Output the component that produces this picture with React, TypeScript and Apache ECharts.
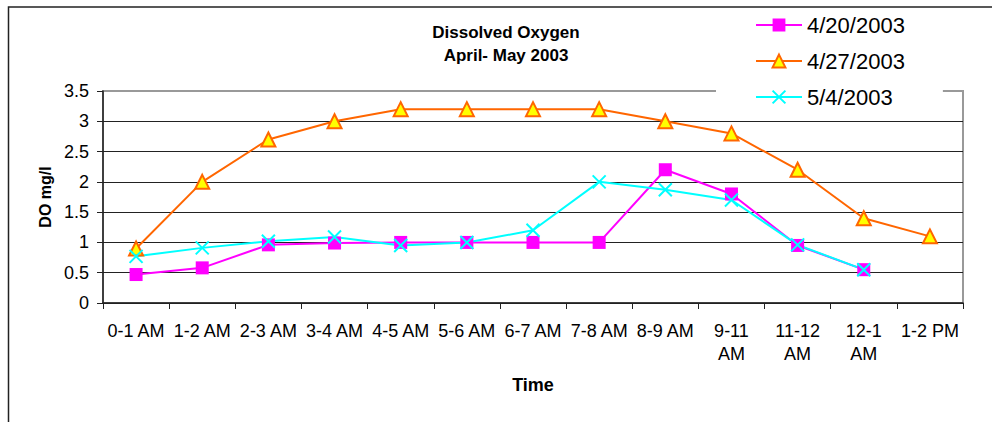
import React, { useEffect, useRef } from "react";
import * as echarts from "echarts";

const categories = [
  "0-1 AM", "1-2 AM", "2-3 AM", "3-4 AM", "4-5 AM", "5-6 AM", "6-7 AM",
  "7-8 AM", "8-9 AM", "9-11 AM", "11-12 AM", "12-1 AM", "1-2 PM",
];
const wrappedLabels = ["9-11 AM", "11-12 AM", "12-1 AM"];
const seriesNames = ["4/20/2003", "4/27/2003", "5/4/2003"];
const do0420 = [0.47, 0.58, 0.96, 0.99, 1.0, 1.0, 1.0, 1.0, 2.2, 1.8, 0.95, 0.55, null];
const do0427 = [0.9, 2.0, 2.7, 3.0, 3.2, 3.2, 3.2, 3.2, 3.0, 2.8, 2.2, 1.4, 1.1];
const do0504 = [0.77, 0.91, 1.02, 1.09, 0.95, 1.0, 1.2, 2.0, 1.87, 1.7, 0.96, 0.55, null];
const yTicks = { min: 0, max: 3.5, interval: 0.5 };
const titleLines = ["Dissolved Oxygen", "April- May 2003"];

const FONT = "'Liberation Sans', Arial, Helvetica, sans-serif";

export default function App() {
  const ref = useRef<HTMLDivElement>(null);
  useEffect(() => {
    if (!ref.current) return;
    const chart = echarts.init(ref.current, null, { renderer: "svg" });
    chart.setOption({
      animation: false,
      backgroundColor: "#ffffff",
      textStyle: { fontFamily: FONT },
      graphic: [
        {
          type: "rect",
          z: 100,
          silent: true,
          shape: { x: 8.5, y: 7, width: 1200, height: 800 },
          style: { fill: "none", stroke: "#222", lineWidth: 1.5 },
        },
        {
          type: "text",
          x: 506,
          y: 44,
          z: 100,
          style: {
            text: titleLines.join("\n"),
            fontFamily: FONT,
            fontWeight: "bold",
            fontSize: 17,
            lineHeight: 23,
            fill: "#000",
            align: "center",
            verticalAlign: "middle",
          },
        },
      ],
      legend: {
        orient: "vertical",
        left: 716,
        top: 7,
        padding: [7, 38, 6, 39],
        backgroundColor: "#ffffff",
        itemWidth: 46,
        itemHeight: 16,
        itemGap: 14,
        z: 50,
        textStyle: { fontSize: 22, lineHeight: 22, color: "#000", fontFamily: FONT },
        data: seriesNames,
      },
      grid: {
        left: 103,
        right: 29,
        top: 91,
        bottom: 119,
        show: true,
        borderColor: "#999",
        borderWidth: 2,
        backgroundColor: "transparent",
      },
      xAxis: {
        type: "category",
        data: categories,
        boundaryGap: true,
        name: "Time",
        nameLocation: "middle",
        nameGap: 73,
        nameTextStyle: { fontSize: 18, fontWeight: "bold", color: "#000", fontFamily: FONT },
        axisLine: { lineStyle: { color: "#222", width: 1.5 } },
        axisTick: { show: true, length: 6, alignWithLabel: false, lineStyle: { color: "#222" } },
        axisLabel: {
          interval: 0,
          fontSize: 18,
          lineHeight: 23,
          margin: 16,
          color: "#000",
          fontFamily: FONT,
          formatter: (v: string) => (wrappedLabels.includes(v) ? v.replace(" ", "\n") : v),
        },
        splitLine: { show: false },
      },
      yAxis: {
        type: "value",
        min: yTicks.min,
        max: yTicks.max,
        interval: yTicks.interval,
        name: "DO mg/l",
        nameLocation: "middle",
        nameGap: 50,
        nameTextStyle: { fontSize: 16, fontWeight: "bold", color: "#000", fontFamily: FONT },
        axisLine: { show: true, lineStyle: { color: "#222", width: 1.5 } },
        axisTick: { show: true, length: 6, lineStyle: { color: "#222" } },
        axisLabel: {
          fontSize: 18,
          margin: 14,
          color: "#000",
          fontFamily: FONT,
          formatter: (v: number) => String(v),
        },
        splitLine: {
          show: true,
          lineStyle: {
            color: ["#222", "#222", "#222", "#222", "#222", "#222", "#222", "#999"],
            width: 1,
          },
        },
      },
      series: [
        {
          name: seriesNames[0],
          type: "line",
          data: do0420,
          symbol: "rect",
          symbolSize: 13,
          lineStyle: { color: "#ff00ff", width: 2 },
          itemStyle: { color: "#ff00ff" },
          connectNulls: false,
        },
        {
          name: seriesNames[1],
          type: "line",
          data: do0427,
          symbol: "triangle",
          symbolSize: 14,
          lineStyle: { color: "#ff6600", width: 2 },
          itemStyle: { color: "#ffff00", borderColor: "#ff6600", borderWidth: 2 },
        },
        {
          name: seriesNames[2],
          type: "line",
          data: do0504,
          symbol: "path://M0 0L10 10M10 0L0 10",
          symbolSize: 13,
          lineStyle: { color: "#00ffff", width: 2 },
          itemStyle: { color: "#00ffff", borderColor: "#00ffff", borderWidth: 2 },
          connectNulls: false,
        },
      ],
    });
    return () => chart.dispose();
  }, []);
  return (
    <div
      ref={ref}
      style={{ position: "fixed", left: 0, top: 0, width: 992, height: 422 }}
    />
  );
}
